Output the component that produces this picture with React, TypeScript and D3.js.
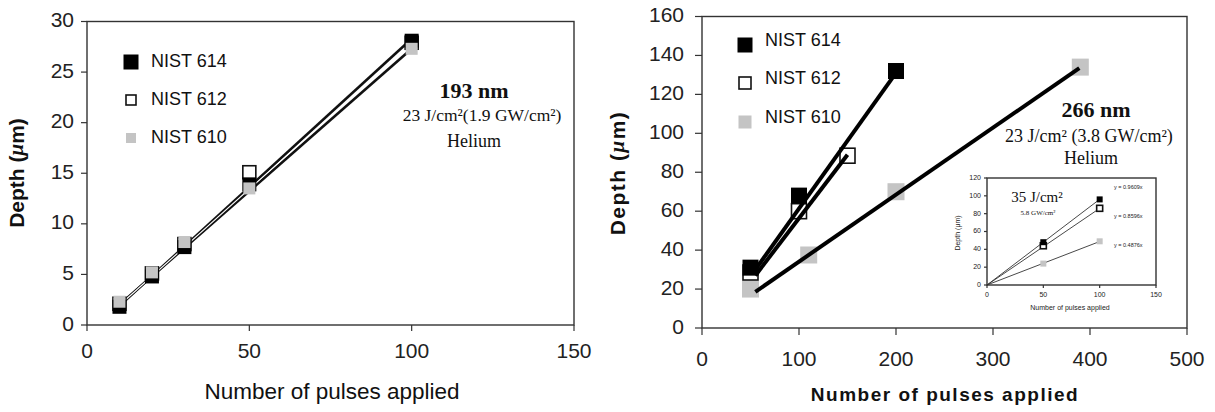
import React from "react";
import * as d3 from "d3";

// ---------- data ----------
const seriesNames = ["NIST 614", "NIST 612", "NIST 610"];

// left chart (193 nm)
const leftX = [10, 20, 30, 50, 100];
const left614 = [1.8, 4.8, 7.7, 13.9, 28.1];
const left612 = [2.1, 5.1, 8.0, 15.1, 27.9];
const left610 = [2.3, 5.2, 8.2, 13.5, 27.3];
const leftFitX = [10, 100];
const leftFit614 = [1.9, 28.3];
const leftFit612 = [2.0, 27.3];
const leftFit610 = [1.95, 27.8];
const leftXTicks = [0, 50, 100, 150];
const leftYTicks = [0, 5, 10, 15, 20, 25, 30];

// right chart (266 nm)
const right614X = [50, 100, 200];
const right614 = [31, 68, 132];
const right612X = [50, 100, 150];
const right612 = [28.5, 60, 88.5];
const right610X = [50, 110, 200, 390];
const right610 = [20, 37.5, 70, 134];
const rightFit614X = [55, 200];
const rightFit614 = [30, 131];
const rightFit612X = [55, 150];
const rightFit612 = [27, 89];
const rightFit610X = [55, 389];
const rightFit610 = [18.6, 133.5];
const rightXTicks = [0, 100, 200, 300, 400, 500];
const rightYTicks = [0, 20, 40, 60, 80, 100, 120, 140, 160];

// inset (35 J/cm2)
const insetX = [50, 100];
const inset614 = [48, 96];
const inset612 = [44, 86];
const inset610 = [24, 49];
const insetSlopes = [0.9609, 0.8596, 0.4876];
const insetEqLabels = ["y = 0.9609x", "y = 0.8596x", "y = 0.4876x"];
const insetXTicks = [0, 50, 100, 150];
const insetYTicks = [0, 20, 40, 60, 80, 100, 120];

const GRAY = "#c4c4c4";
const AX = "#333";
const SANS = "Liberation Sans, Arial, sans-serif";
const SERIF = "Liberation Serif, Times New Roman, serif";

type Sc = d3.ScaleLinear<number, number>;

function Square({ x, y, s, kind }: { x: number; y: number; s: number; kind: number }) {
  if (kind === 0) return <rect x={x - s / 2} y={y - s / 2} width={s} height={s} fill="#000" />;
  if (kind === 1)
    return <rect x={x - s / 2} y={y - s / 2} width={s} height={s} fill="#fff" stroke="#111" strokeWidth={1.6} />;
  return <rect x={x - s / 2} y={y - s / 2} width={s} height={s} fill={GRAY} />;
}

function Frame({ xs, ys, xt, yt, tickLen, fontSize, fmt, labelGap, yLabelGap }: {
  xs: Sc; ys: Sc; xt: number[]; yt: number[]; tickLen: number; fontSize: number; fmt?: (v: number) => string; labelGap: number; yLabelGap: number;
}) {
  const [x0, x1] = xs.range();
  const [y0, y1] = ys.range();
  const f = fmt || ((v: number) => String(v));
  return (
    <g>
      <rect x={x0} y={y1} width={x1 - x0} height={y0 - y1} fill="none" stroke={AX} strokeWidth={1.4} />
      {xt.map((t) => (
        <g key={"x" + t}>
          <line x1={xs(t)} x2={xs(t)} y1={y0} y2={y0 + tickLen} stroke={AX} strokeWidth={1.2} />
          <text x={xs(t)} y={y0 + tickLen + labelGap} textAnchor="middle" dominantBaseline="middle"
            fontFamily={SANS} fontSize={fontSize} fill="#222">{f(t)}</text>
        </g>
      ))}
      {yt.map((t) => (
        <g key={"y" + t}>
          <line x1={x0 - tickLen} x2={x0} y1={ys(t)} y2={ys(t)} stroke={AX} strokeWidth={1.2} />
          <text x={x0 - tickLen - yLabelGap} y={ys(t)} textAnchor="end" dominantBaseline="middle"
            fontFamily={SANS} fontSize={fontSize} fill="#222">{f(t)}</text>
        </g>
      ))}
    </g>
  );
}

export default function App() {
  // left scales
  const lx = d3.scaleLinear().domain([0, 150]).range([87, 574]);
  const ly = d3.scaleLinear().domain([0, 30]).range([325, 21.5]);
  // right scales
  const rx = d3.scaleLinear().domain([0, 500]).range([702, 1187]);
  const ry = d3.scaleLinear().domain([0, 160]).range([328, 16.5]);
  // inset scales
  const ix = d3.scaleLinear().domain([0, 150]).range([987, 1156]);
  const iy = d3.scaleLinear().domain([0, 120]).range([285, 178]);

  const line = d3.line<[number, number]>();
  const pts = (xs: Sc, ys: Sc, X: number[], Y: number[]) =>
    X.map((v, i) => [xs(v), ys(Y[i])] as [number, number]);

  const leftVals = [left614, left612, left610];
  const leftFits = [leftFit614, leftFit612, leftFit610];
  const leftSizes = [14, 13, 12];

  const rightX = [right614X, right612X, right610X];
  const rightY = [right614, right612, right610];
  const rightFitX = [rightFit614X, rightFit612X, rightFit610X];
  const rightFitY = [rightFit614, rightFit612, rightFit610];
  const rightSizes = [16, 15, 17];

  const insetVals = [inset614, inset612, inset610];

  return (
    <svg width={1215} height={412} style={{ position: "absolute", left: 0, top: 0, display: "block", background: "#fff" }}>
      <rect x={0} y={0} width={1215} height={412} fill="#fff" />
      {/* ================= LEFT ================= */}
      <Frame xs={lx} ys={ly} xt={leftXTicks} yt={leftYTicks} tickLen={6} fontSize={21} labelGap={21} yLabelGap={7} />
      {/* fit lines */}
      <path d={line(pts(lx, ly, leftFitX, leftFits[0]))!} stroke="#111" strokeWidth={2.6} fill="none" />
      <path d={line(pts(lx, ly, leftFitX, leftFits[1]))!} stroke="#111" strokeWidth={2.6} fill="none" />
      <path d={line(pts(lx, ly, leftFitX, leftFits[2]))!} stroke="#fff" strokeWidth={1.1} fill="none" />
      {/* markers */}
      {[1, 0, 2].map((k) =>
        leftX.map((v, i) => (
          <Square key={"l" + k + i} x={lx(v)} y={ly(leftVals[k][i])} s={leftSizes[k]} kind={k} />
        ))
      )}
      {/* legend */}
      {[62, 100, 138].map((y, k) => (
        <g key={"lg" + k}>
          <Square x={131} y={y} s={[15, 10, 10][k]} kind={k} />
          <text x={151} y={y} dominantBaseline="middle" fontFamily={SANS} fontSize={18} fill="#111">{seriesNames[k]}</text>
        </g>
      ))}
      {/* annotation */}
      <text x={474} y={93} textAnchor="middle" dominantBaseline="middle" fontFamily={SERIF} fontWeight="bold" fontSize={22} fill="#111">193 nm</text>
      <text x={482} y={117} textAnchor="middle" dominantBaseline="middle" fontFamily={SERIF} fontSize={17.5} fill="#111">23 J/cm²(1.9 GW/cm²)</text>
      <text x={474} y={143} textAnchor="middle" dominantBaseline="middle" fontFamily={SERIF} fontSize={18} fill="#111">Helium</text>
      {/* titles */}
      <text transform="translate(18,173) rotate(-90)" textAnchor="middle" dominantBaseline="middle" fontFamily={SANS} fontWeight="bold" fontSize={21} fill="#111">
        Depth (<tspan fontFamily={SERIF} fontStyle="italic">μ</tspan>m)
      </text>
      <text x={332} y={393} textAnchor="middle" dominantBaseline="middle" fontFamily={SANS} fontSize={22.5} fill="#111">Number of pulses applied</text>

      {/* ================= RIGHT ================= */}
      <Frame xs={rx} ys={ry} xt={rightXTicks} yt={rightYTicks} tickLen={7} fontSize={21} labelGap={25} yLabelGap={11} />
      {/* markers under lines */}
      {[2, 1].map((k) =>
        rightX[k].map((v, i) => (
          <Square key={"r" + k + i} x={rx(v)} y={ry(rightY[k][i])} s={rightSizes[k]} kind={k} />
        ))
      )}
      {[0, 1, 2].map((k) => (
        <path key={"rf" + k} d={line(pts(rx, ry, rightFitX[k], rightFitY[k]))!} stroke="#000" strokeWidth={4} fill="none" />
      ))}
      {rightX[0].map((v, i) => (
        <Square key={"r0" + i} x={rx(v)} y={ry(rightY[0][i])} s={rightSizes[0]} kind={0} />
      ))}
      {/* legend */}
      {[45, 83, 122].map((y, k) => (
        <g key={"rg" + k}>
          <Square x={745} y={y} s={[15, 12, 13][k]} kind={k} />
          <text x={765} y={y - 4} dominantBaseline="middle" fontFamily={SANS} fontSize={18} fill="#111">{seriesNames[k]}</text>
        </g>
      ))}
      {/* annotation */}
      <text x={1096} y={112} textAnchor="middle" dominantBaseline="middle" fontFamily={SERIF} fontWeight="bold" fontSize={22} fill="#111">266 nm</text>
      <text x={1089} y={138} textAnchor="middle" dominantBaseline="middle" fontFamily={SERIF} fontSize={18} fill="#111">23 J/cm² (3.8 GW/cm²)</text>
      <text x={1091} y={160} textAnchor="middle" dominantBaseline="middle" fontFamily={SERIF} fontSize={18} fill="#111">Helium</text>
      {/* titles */}
      <text transform="translate(619,173) rotate(-90)" textAnchor="middle" dominantBaseline="middle" fontFamily={SANS} fontWeight="bold" fontSize={21} letterSpacing={1.5} fill="#111">
        Depth (<tspan fontFamily={SERIF} fontStyle="italic">μ</tspan>m)
      </text>
      <text x={945} y={396} textAnchor="middle" dominantBaseline="middle" fontFamily={SANS} fontWeight="bold" fontSize={19} letterSpacing={1.5} fill="#111">Number of pulses applied</text>

      {/* ================= INSET ================= */}
      <rect x={987} y={178} width={169} height={107} fill="#fff" />
      <Frame xs={ix} ys={iy} xt={insetXTicks} yt={insetYTicks} tickLen={3} fontSize={7} labelGap={7} yLabelGap={3} />
      {[0, 1, 2].map((k) => (
        <path key={"if" + k} d={line([[ix(0), iy(0)], [ix(100), iy(insetSlopes[k] * 100)]])!} stroke="#333" strokeWidth={0.9} fill="none" />
      ))}
      {[2, 1, 0].map((k) =>
        insetX.map((v, i) => (
          <Square key={"i" + k + i} x={ix(v)} y={iy(insetVals[k][i])} s={6} kind={k} />
        ))
      )}
      {insetEqLabels.map((t, k) => (
        <text key={"eq" + k} x={1114} y={[188, 217, 246][k]} dominantBaseline="middle" fontFamily={SANS} fontSize={5.5} fill="#222">{t}</text>
      ))}
      <text x={1037} y={199} textAnchor="middle" dominantBaseline="middle" fontFamily={SERIF} fontSize={15} fill="#111">35 J/cm²</text>
      <text x={1038} y={213} textAnchor="middle" dominantBaseline="middle" fontFamily={SERIF} fontSize={7} fill="#111">5.8 GW/cm²</text>
      <text transform="translate(958,233) rotate(-90)" textAnchor="middle" dominantBaseline="middle" fontFamily={SANS} fontSize={7} fill="#222">Depth (μm)</text>
      <text x={1070} y={308} textAnchor="middle" dominantBaseline="middle" fontFamily={SANS} fontSize={7} fill="#222">Number of pulses applied</text>
    </svg>
  );
}
